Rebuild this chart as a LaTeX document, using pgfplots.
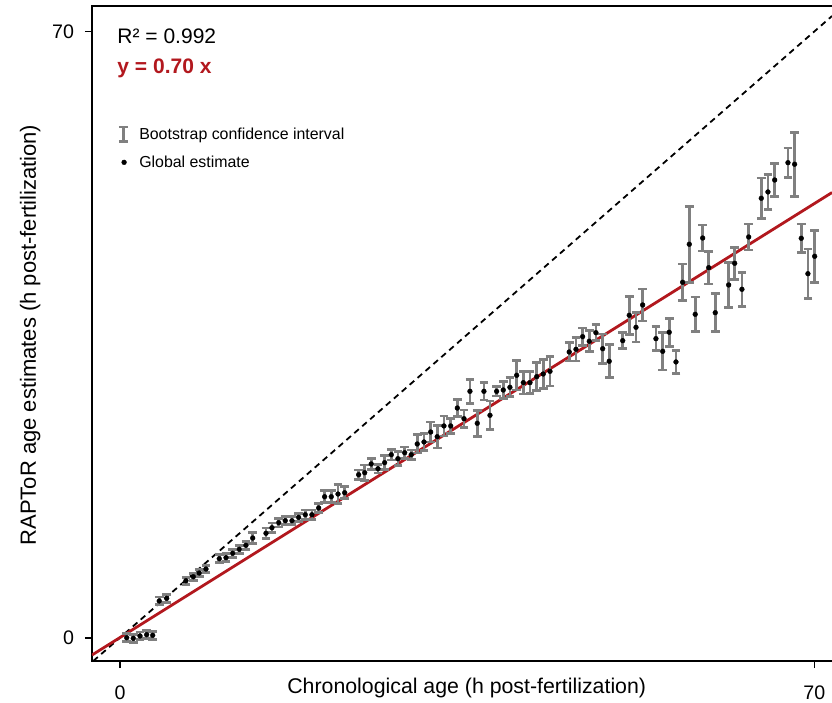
\documentclass[border=0pt]{standalone}
\usepackage{pgfplots}
\pgfplotsset{compat=1.18}
\usepackage{pgfplotstable}
\usepackage{fontspec}
\setmainfont{Liberation Sans}
\definecolor{fitred}{RGB}{178,24,30}
\definecolor{ebgray}{RGB}{128,128,128}
\pgfplotstableread{
x y e
0.68 0.00 0.45
1.34 -0.07 0.45
2.02 0.20 0.45
2.69 0.35 0.45
3.30 0.28 0.45
3.96 4.24 0.45
4.71 4.55 0.45
6.65 6.58 0.4
7.39 7.04 0.4
7.99 7.47 0.4
8.67 7.93 0.4
10.01 9.12 0.45
10.69 9.24 0.45
11.36 9.75 0.45
12.03 10.21 0.45
12.70 10.67 0.45
13.38 11.51 0.6
14.72 12.06 0.6
15.32 12.70 0.55
16.00 13.28 0.5
16.66 13.51 0.45
17.34 13.51 0.45
18.01 13.90 0.45
18.68 14.20 0.55
19.35 14.20 0.55
20.03 14.98 0.55
20.63 16.28 0.7
21.30 16.28 0.7
21.98 16.59 1.1
22.65 16.74 0.7
24.06 18.82 0.55
24.67 19.05 0.9
25.33 20.06 0.6
26.01 19.51 0.5
26.68 20.21 0.8
27.35 21.13 0.6
28.02 20.67 0.8
28.70 21.36 0.65
29.36 21.13 0.55
29.97 22.37 1.05
30.65 22.60 1.0
31.32 23.75 1.15
31.98 23.21 1.3
32.66 24.45 1.15
33.34 24.45 0.9
34.01 26.52 1.0
34.68 25.29 1.0
35.28 28.45 1.4
36.02 24.76 1.5
36.69 28.45 1.0
37.30 25.68 1.65
37.97 28.45 0.55
38.64 28.60 1.0
39.31 28.91 1.1
39.99 30.30 1.7
40.66 29.45 1.3
41.33 29.45 1.25
42.01 30.14 1.6
42.67 30.45 1.65
43.35 30.76 1.7
45.29 32.99 1.05
45.97 33.30 1.35
46.64 34.76 1.0
47.31 34.23 1.2
47.98 35.22 0.9
48.66 33.37 1.7
49.32 31.92 1.9
50.68 34.30 0.92
51.34 37.23 2.2
52.02 35.84 1.7
52.69 38.42 1.85
54.03 34.53 1.4
54.71 33.07 2.15
55.37 35.27 1.6
56.05 31.84 1.35
56.72 41.04 2.1
57.39 45.43 4.4
57.99 37.34 2.0
58.74 46.15 1.5
59.35 42.73 1.9
60.01 37.53 2.2
61.36 40.73 2.6
61.97 43.23 1.85
62.70 40.23 1.95
63.38 46.27 1.5
64.65 50.74 2.35
65.32 51.47 2.0
66.00 52.85 1.9
67.34 54.85 1.7
68.01 54.67 3.7
68.68 46.12 1.65
69.35 42.03 2.85
70.03 44.04 3.0
}\agedata
\begin{document}
\begin{tikzpicture}
\begin{axis}[
  name=ax,
  scale only axis,
  width=740pt, height=655pt,
  xmin=-2.82, xmax=71.78, ymin=-2.69, ymax=72.94,
  axis x line=bottom, axis y line=left,
  every outer x axis line/.append style={-},
  every outer y axis line/.append style={-},
  axis line style={line width=1.6pt, -, line cap=rect, black},
  xtick={0,70}, ytick={0,70},
  tick align=outside,
  major tick length=7pt,
  tick style={line width=1.6pt, black},
  /pgf/number format/assume math mode=true,
  ticklabel style={font=\fontsize{19.6}{22}\selectfont},
  xticklabel style={yshift=-14pt},
  yticklabel style={xshift=-7.5pt},
  xlabel={Chronological age (h post-fertilization)},
  ylabel={RAPToR age estimates (h post-fertilization)},
  xlabel style={at={(axis description cs:0.5064,-0.0493)}, anchor=base, font=\fontsize{21.3}{24}\selectfont, inner sep=0pt},
  ylabel style={at={(axis description cs:-0.0757,0.4977)}, anchor=base, font=\fontsize{22}{24}\selectfont, inner sep=0pt},
  legend style={at={(axis cs:-0.27,59.15)}, anchor=north west, draw=none, fill=none,
    font=\fontsize{15.9}{18}\selectfont, inner sep=0pt, row sep=11pt},
  legend cell align=left,
]
\addplot[forget plot, black, line width=1.8pt, dash pattern=on 6pt off 4.5pt] coordinates {(-2.69,-2.69) (71.78,71.78)};
\addplot[forget plot, fitred, line width=2.8pt] coordinates {(-2.82,-2.0) (71.78,51.4)};
\addplot[forget plot, only marks, mark=*, mark size=2.4pt, black,
  error bars/.cd, y dir=both, y explicit,
  error mark=-,
  error bar style={ebgray, line width=2.8pt},
  error mark options={rotate=90, ebgray, line width=2.8pt, mark size=4.35pt}]
  table[x=x, y=y, y error=e]{\agedata};
\addlegendimage{legend image code/.code={
  \path[draw=none, fill=none] (0pt,0pt) -- (18.4pt,0pt);
  \draw[ebgray, line width=2.8pt] (4.35pt,-7.2pt) -- (4.35pt,7.2pt);
  \draw[ebgray, line width=2.8pt] (0pt,7.2pt) -- (8.7pt,7.2pt);
  \draw[ebgray, line width=2.8pt] (0pt,-7.2pt) -- (8.7pt,-7.2pt);
}}
\addlegendentry{Bootstrap confidence interval}
\addlegendimage{legend image code/.code={\path[draw=none, fill=none] (0pt,0pt) -- (18.4pt,0pt); \fill[black] (5.2pt,0pt) circle (2.4pt);}}
\addlegendentry{Global estimate}
\node[anchor=base west, inner sep=0pt, font=\fontsize{21}{24}\selectfont] at (axis cs:-0.27,68.56) {R² = 0.992};
\node[anchor=base west, inner sep=0pt, font=\fontsize{21}{24}\selectfont\bfseries, text=fitred] at (axis cs:-0.27,65.1) {y = 0.70 x};
\end{axis}
\draw[line width=1.6pt, line cap=rect] (ax.north west) -- (ax.north east);
\pgfresetboundingbox
\path ([xshift=-92pt,yshift=-41pt]ax.south west) rectangle ([yshift=6pt]ax.north east);
\end{tikzpicture}
\end{document}
